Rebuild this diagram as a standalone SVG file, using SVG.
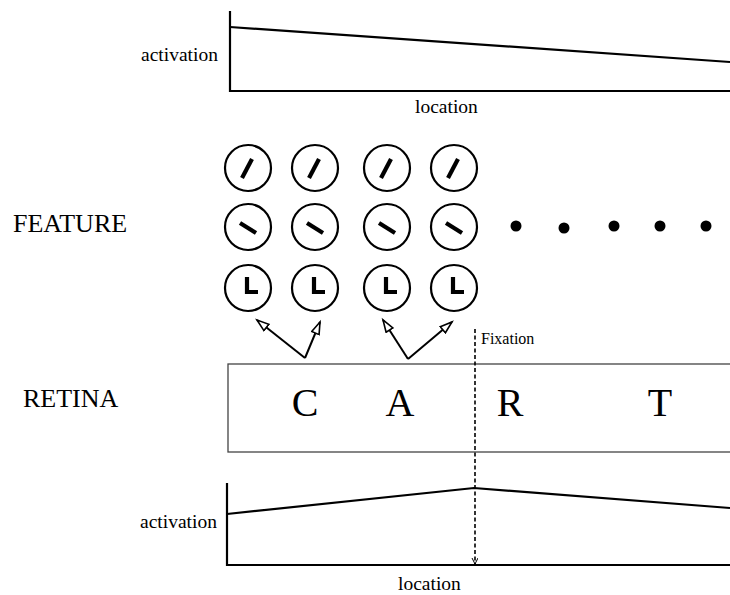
<svg xmlns="http://www.w3.org/2000/svg" width="730" height="595" viewBox="0 0 730 595">
<style>
  .lbl { font-family: "Liberation Serif", "Times New Roman", serif; fill: #000; }
  .axis { stroke: #000; stroke-width: 2.2; fill: none; }
  .curve { stroke: #000; stroke-width: 2.2; fill: none; stroke-linejoin: miter; }
  .cell { fill: #fff; stroke: #000; stroke-width: 2.2; }
  .mark { stroke: #000; stroke-width: 4.2; fill: none; stroke-linecap: butt; }
  .conn { stroke: #000; stroke-width: 2; fill: none; }
</style>
<defs>
  <marker id="open" markerUnits="userSpaceOnUse" markerWidth="16" markerHeight="12" refX="13" refY="5" orient="auto">
    <path d="M1,1 L13,5 L1,9 Z" fill="#fff" stroke="#000" stroke-width="1.6"/>
  </marker>
  <marker id="small" markerUnits="userSpaceOnUse" markerWidth="8" markerHeight="8" refX="6" refY="3" orient="auto">
    <path d="M0,0 L6,3 L0,6" fill="none" stroke="#000" stroke-width="1"/>
  </marker>
  <g id="slash"><circle class="cell" r="23"/><path class="mark" d="M-6,10 L4,-9"/></g>
  <g id="back"><circle class="cell" r="23"/><path class="mark" d="M-8,-4 L8,6"/></g>
  <g id="ell"><circle class="cell" r="23"/><path class="mark" d="M-1,-11 V4 H10"/></g>
</defs>

<g id="top-chart">
  <path class="axis" d="M230,11 V91 H730"/>
  <path class="curve" d="M230,27 L730,62"/>
  <text class="lbl" x="141" y="61" font-size="19.5">activation</text>
  <text class="lbl" x="415" y="113" font-size="19.5">location</text>
</g>

<g id="label-feature"><text class="lbl" x="13" y="232" font-size="26">FEATURE</text></g>
<g id="label-retina"><text class="lbl" x="23" y="407" font-size="26">RETINA</text></g>

<g id="features">
  <use href="#slash" x="248" y="168"/>
  <use href="#slash" x="315" y="168"/>
  <use href="#slash" x="387" y="168"/>
  <use href="#slash" x="454" y="168"/>
  <use href="#back" x="248" y="227"/>
  <use href="#back" x="315" y="227"/>
  <use href="#back" x="387" y="227"/>
  <use href="#back" x="454" y="227"/>
  <use href="#ell" x="248" y="288"/>
  <use href="#ell" x="315" y="288"/>
  <use href="#ell" x="387" y="288"/>
  <use href="#ell" x="454" y="288"/>
</g>

<g id="dots" fill="#000">
  <circle cx="516" cy="226" r="5.5"/>
  <circle cx="564" cy="228" r="5.5"/>
  <circle cx="614" cy="226" r="5.5"/>
  <circle cx="660" cy="226" r="5.5"/>
  <circle cx="706" cy="226" r="5.5"/>
</g>

<g id="retina">
  <rect x="228" y="364" width="520" height="88" fill="none" stroke="#444" stroke-width="1.3"/>
  <text class="lbl" x="305" y="416" font-size="40" text-anchor="middle">C</text>
  <text class="lbl" x="400" y="416" font-size="40" text-anchor="middle">A</text>
  <text class="lbl" x="510" y="416" font-size="40" text-anchor="middle">R</text>
  <text class="lbl" x="660" y="416" font-size="40" text-anchor="middle">T</text>
</g>

<g id="connectors">
  <path class="conn" d="M305,358 L257,320" marker-end="url(#open)"/>
  <path class="conn" d="M305,358 L320,322" marker-end="url(#open)"/>
  <path class="conn" d="M408,359 L383,320" marker-end="url(#open)"/>
  <path class="conn" d="M408,359 L452,322" marker-end="url(#open)"/>
  <path d="M475,329 V564" stroke="#000" stroke-width="1.6" stroke-dasharray="4,2.5" fill="none" marker-end="url(#small)"/>
</g>
<g id="label-fixation"><text class="lbl" x="481" y="344" font-size="16">Fixation</text></g>

<g id="bottom-chart">
  <path class="axis" d="M227,483 V565 H730"/>
  <path class="curve" d="M227,514 L474,488 L730,508"/>
  <text class="lbl" x="140" y="528" font-size="19.5">activation</text>
  <text class="lbl" x="398" y="590" font-size="19.5">location</text>
</g>
</svg>
